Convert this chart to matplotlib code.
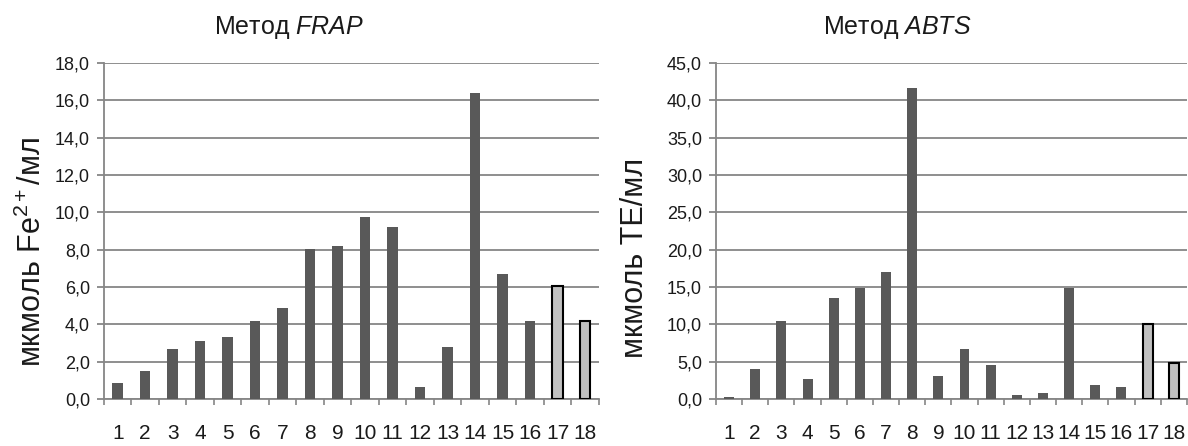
import matplotlib
matplotlib.use("Agg")
import matplotlib.pyplot as plt
import numpy as np

plt.rcParams['font.family'] = ['Liberation Sans', 'DejaVu Sans']
plt.rcParams['mathtext.fontset'] = 'custom'
plt.rcParams['mathtext.rm'] = 'Liberation Sans'
plt.rcParams['mathtext.it'] = 'Liberation Sans:italic'
plt.rcParams['mathtext.default'] = 'regular'

categories = [str(i) for i in range(1, 19)]
frap_values = [0.86, 1.52, 2.68, 3.09, 3.34, 4.18, 4.86, 8.04, 8.17, 9.74,
               9.24, 0.66, 2.77, 16.39, 6.67, 4.18, 6.08, 4.17]
abts_values = [0.22, 4.0, 10.4, 2.67, 13.56, 14.85, 17.03, 41.66, 3.11, 6.67,
               4.54, 0.53, 0.76, 14.81, 1.87, 1.56, 10.09, 4.76]
frap_ticks = [0, 2, 4, 6, 8, 10, 12, 14, 16, 18]
abts_ticks = [0, 5, 10, 15, 20, 25, 30, 35, 40, 45]
highlight = [16, 17]  # indices of the light bars (17, 18)

DARK = '#595959'
LIGHT = '#c0c0c0'
GRID = '#868686'
TXT = '#1a1a1a'

fig = plt.figure(figsize=(11.88, 4.46), dpi=100)
ax1 = fig.add_axes([0.0875, 0.1054, 0.4165, 0.7533])
ax2 = fig.add_axes([0.6027, 0.1054, 0.3963, 0.7533])


def draw(ax, values, yticks, title, ylabel, labelx, labely, titlex):
    n = len(values)
    x = np.arange(n)
    colors = [LIGHT if i in highlight else DARK for i in range(n)]
    edges = ['black' if i in highlight else DARK for i in range(n)]
    lws = [1.5 if i in highlight else 0 for i in range(n)]
    ax.bar(x, values, width=0.38, color=colors, edgecolor=edges, linewidth=lws, zorder=3)
    ax.set_xlim(-0.5, n - 0.5)
    ax.set_ylim(yticks[0], yticks[-1])
    ax.set_yticks(yticks)
    ax.set_yticklabels([f'{v:.1f}'.replace('.', ',') for v in yticks])
    ax.yaxis.grid(True, color=GRID, linewidth=1.3, zorder=0)
    ax.set_axisbelow(True)
    ax.set_xticks(x)
    ax.set_xticklabels(categories)
    ax.set_xticks(np.arange(n + 1) - 0.5, minor=True)
    ax.tick_params(axis='x', which='major', length=0, pad=18, labelsize=15, labelcolor=TXT)
    ax.tick_params(axis='x', which='minor', length=4, width=1.2, color=GRID, direction='out')
    ax.tick_params(axis='y', which='major', length=5, width=1.3, color=GRID, direction='out',
                   labelsize=13, labelcolor=TXT, pad=5)
    for s in ['top', 'right']:
        ax.spines[s].set_visible(False)
    for s in ['left', 'bottom']:
        ax.spines[s].set_color(GRID)
        ax.spines[s].set_linewidth(1.3)
    ax.set_title(title, fontsize=18, pad=21, color=TXT, x=titlex)
    ax.set_ylabel(ylabel, fontsize=22, color=TXT)
    ax.yaxis.set_label_coords(labelx, labely)


draw(ax1, frap_values, frap_ticks, 'Метод $\\it{FRAP}$', 'мкмоль Fe$^{2+}$/мл', -0.113, 0.4375, 0.374)
draw(ax2, abts_values, abts_ticks, 'Метод $\\it{ABTS}$', 'мкмоль ТЕ/мл', -0.14, 0.42, 0.386)

fig.savefig('out.png', dpi=100)
